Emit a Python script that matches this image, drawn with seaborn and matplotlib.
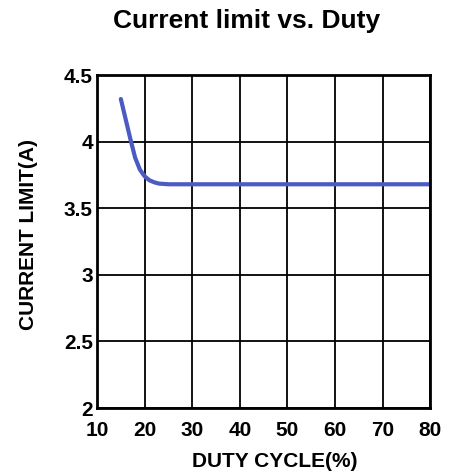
import matplotlib
matplotlib.use('Agg')
import matplotlib.pyplot as plt
import seaborn as sns
import pandas as pd

# ----------------------------
# Data
# ----------------------------
duty = [15, 16, 17, 18, 19, 20, 21, 22, 23, 25, 30, 40, 50, 60, 70, 80]
current = [4.32, 4.17, 4.02, 3.88, 3.79, 3.74, 3.71, 3.695, 3.685, 3.68,
           3.68, 3.68, 3.68, 3.68, 3.68, 3.68]
x_ticks = [10, 20, 30, 40, 50, 60, 70, 80]
y_ticks = [2, 2.5, 3, 3.5, 4, 4.5]
y_tick_labels = ['2', '2.5', '3', '3.5', '4', '4.5']

df = pd.DataFrame({'Duty': duty, 'Current': current})

sns.set_style('white')
plt.rcParams['font.family'] = ['Liberation Sans', 'DejaVu Sans']
plt.rcParams['font.weight'] = 'bold'
plt.rcParams['text.color'] = 'black'
plt.rcParams['axes.labelcolor'] = 'black'

fig = plt.figure(figsize=(4.6, 4.75), dpi=100)
ax = fig.add_axes([0.211, 0.141, 0.724, 0.701])

sns.lineplot(data=df, x='Duty', y='Current', ax=ax, color='#4a5bc4', linewidth=3)

ax.set_xlim(10, 80)
ax.set_ylim(2, 4.5)
ax.set_xticks(x_ticks)
ax.set_yticks(y_ticks)
ax.set_yticklabels(y_tick_labels)
ax.grid(True, color='black', linewidth=1.3)
for s in ax.spines.values():
    s.set_color('black')
    s.set_linewidth(2)
ax.tick_params(length=0, labelsize=15, colors='black')
ax.tick_params(axis='x', pad=9)
ax.tick_params(axis='y', pad=3)
for lbl in ax.get_xticklabels() + ax.get_yticklabels():
    lbl.set_fontweight('bold')

ax.set_xlabel('DUTY CYCLE(%)', fontsize=15, fontweight='bold')
ax.set_ylabel('CURRENT LIMIT(A)', fontsize=15, fontweight='bold')
ax.xaxis.set_label_coords(0.535, -0.132)
ax.yaxis.set_label_coords(-0.177, 0.52)
fig.text(0.537, 0.955, 'Current limit vs. Duty', ha='center', va='center',
         fontsize=19, fontweight='bold')

fig.savefig('out.png', dpi=100)
